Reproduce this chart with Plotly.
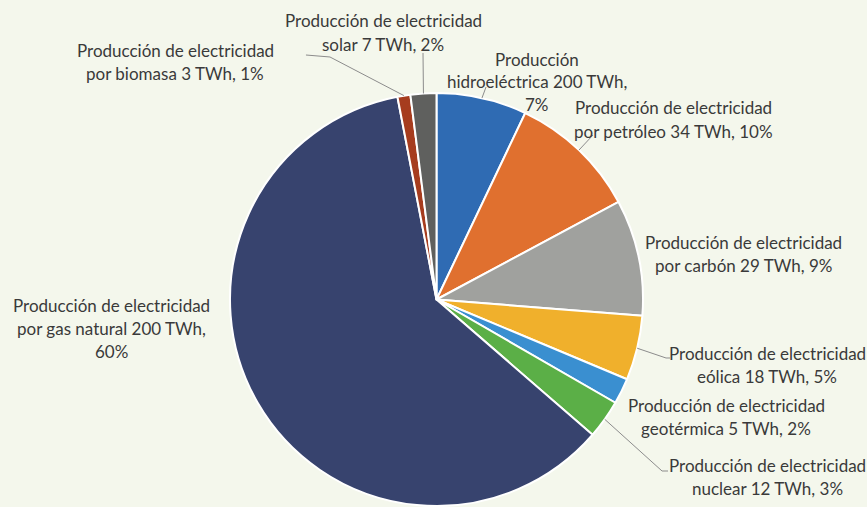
import math
import plotly.graph_objects as go

# Electricity production by source (share of total, %), clockwise from 12 o'clock
sources = ["hidroeléctrica", "petróleo", "carbón", "eólica", "geotérmica",
           "nuclear", "gas natural", "biomasa", "solar"]
shares = [7, 10, 9, 5, 2, 3, 60, 1, 2]
twh = [200, 34, 29, 18, 5, 12, 200, 3, 7]
colors = ["#2F6BB3", "#E0702F", "#A0A19E", "#F0B02C", "#3A8FD0",
          "#5BAF47", "#37436E", "#A63C1E", "#5F605E"]

# Label text, one list of lines per slice
label_lines = [
    ["Producción", "hidroeléctrica {} TWh,".format(twh[0]), "{}%".format(shares[0])],
    ["Producción de electricidad", "por petróleo {} TWh, {}%".format(twh[1], shares[1])],
    ["Producción de electricidad", "por carbón {} TWh, {}%".format(twh[2], shares[2])],
    ["Producción de electricidad", "eólica {} TWh, {}%".format(twh[3], shares[3])],
    ["Producción de electricidad", "geotérmica {} TWh, {}%".format(twh[4], shares[4])],
    ["Producción de electricidad", "nuclear {} TWh, {}%".format(twh[5], shares[5])],
    ["Producción de electricidad", "por gas natural {} TWh,".format(twh[6]), "{}%".format(shares[6])],
    ["Producción de electricidad", "por biomasa {} TWh, {}%".format(twh[7], shares[7])],
    ["Producción de electricidad", "solar {} TWh, {}%".format(twh[8], shares[8])],
]

W, H = 867, 507
BG = "#F4F7EC"
TXT = "#3A3A3A"

# pie geometry in pixels
CX, CY, R = 436.5, 299.5, 206.5

# label placement: centre x and y of first line (pixels), line step
label_pos = [(537, 59), (673, 108), (743, 242), (767, 353), (726, 405),
             (767, 465), (112, 305), (175, 50), (383, 21)]
LINE_STEP = 23

# leader-line end points near each label (pixels); None = no leader
leader_tail = [
    [(486, 87)],
    [(593, 135)],
    None,
    [(666, 358), (670, 358)],
    None,
    [(662, 471), (668, 471)],
    None,
    [(330, 57), (306, 55)],
    [(423, 53)],
]


def px(x):
    return x / W


def py(y):
    return 1 - y / H


fig = go.Figure(go.Pie(
    labels=sources,
    values=shares,
    sort=False,
    direction="clockwise",
    rotation=0,
    marker=dict(colors=colors, line=dict(color="white", width=2)),
    textinfo="none",
    hoverinfo="label+value",
    showlegend=False,
    domain=dict(x=[px(CX - R), px(CX + R)], y=[py(CY + R), py(CY - R)]),
))

annotations = []
for lines, (lx, ly) in zip(label_lines, label_pos):
    for i, line in enumerate(lines):
        annotations.append(dict(
            x=px(lx), y=py(ly + i * LINE_STEP), xref="paper", yref="paper",
            text=line, showarrow=False, xanchor="center", yanchor="middle",
            font=dict(family="Lato", size=17, color=TXT),
        ))

# leader lines start at the mid-angle of each slice on the pie rim
total = sum(shares)
shapes = []
cum = 0
for v, tail in zip(shares, leader_tail):
    mid = (cum + v / 2) / total * 2 * math.pi
    cum += v
    if not tail:
        continue
    sx = CX + R * math.sin(mid)
    sy = CY - R * math.cos(mid)
    pts = [(sx, sy)] + tail
    path = "M " + " L ".join("{:.4f},{:.4f}".format(px(a), py(b)) for a, b in pts)
    shapes.append(dict(type="path", path=path, xref="paper", yref="paper",
                       line=dict(color="#8C8C8C", width=1)))

fig.update_layout(
    width=W, height=H,
    margin=dict(l=0, r=0, t=0, b=0),
    paper_bgcolor=BG, plot_bgcolor=BG,
    annotations=annotations,
    shapes=shapes,
)

fig.write_html("out.html")
